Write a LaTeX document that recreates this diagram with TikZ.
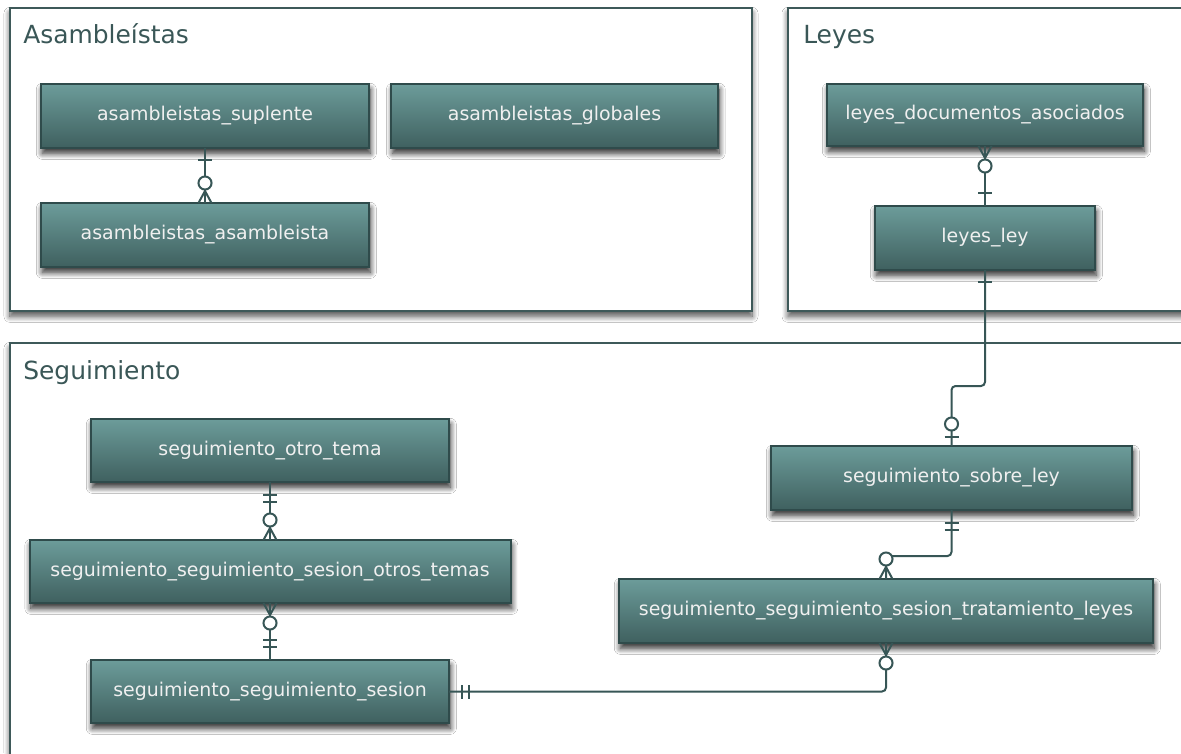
\documentclass[tikz,border=0pt]{standalone}
\usepackage{fontspec}
\setmainfont{DejaVu Sans}
\usepackage{tikz}
\usetikzlibrary{arrows.meta,positioning,fit,calc,shadows.blur,decorations.markings}
\definecolor{erTop}{HTML}{6C9C9A}
\definecolor{erBot}{HTML}{3F605F}
\definecolor{erEdge}{HTML}{2F4B4B}
\definecolor{erLine}{HTML}{375656}
\definecolor{grpEdge}{HTML}{3E5959}
\definecolor{grpText}{HTML}{3A5757}

\begin{document}
\begin{tikzpicture}[
x=0.75pt, y=-0.75pt,
every node/.style={font=\fontsize{14.2}{16}\selectfont},
ent/.style={draw=erEdge, line width=1.5pt, top color=erTop, bottom color=erBot, text=white!94!black, minimum height=48pt, inner sep=0pt, outer sep=0pt, blur shadow={shadow xshift=1pt, shadow yshift=-4pt, shadow blur radius=4.5pt, shadow blur steps=10, shadow opacity=85}},
grp/.style={draw=grpEdge, line width=2pt, fill=white, inner sep=0pt, outer sep=0pt, blur shadow={shadow xshift=0pt, shadow yshift=-4pt, shadow blur radius=4.5pt, shadow blur steps=10, shadow opacity=70}},
grptitle/.style={anchor=base west, text=grpText, inner sep=0pt, font=\fontsize{18.7}{22}\selectfont},
conn/.style={draw=erLine, line width=1.5pt, rounded corners=3pt},
ermark/.style={draw=erLine, line width=1.5pt, solid, rounded corners=0pt},
one at start/.style={postaction={decorate, decoration={markings, mark=at position 9pt with {\draw[ermark] (0,-5.25pt) -- (0,5.25pt);}}}},
one at end/.style={postaction={decorate, decoration={markings, mark=at position -9.5pt with {\draw[ermark] (0,-5.25pt) -- (0,5.25pt);}}}},
one only at start/.style={postaction={decorate, decoration={markings,
  mark=at position 9.5pt with {\draw[ermark] (0,-5.25pt) -- (0,5.25pt);},
  mark=at position 15pt with {\draw[ermark] (0,-5.25pt) -- (0,5.25pt);}}}},
one only at end/.style={postaction={decorate, decoration={markings,
  mark=at position -15pt with {\draw[ermark] (0,-5.25pt) -- (0,5.25pt);},
  mark=at position -9.5pt with {\draw[ermark] (0,-5.25pt) -- (0,5.25pt);}}}},
zero many at start/.style={postaction={decorate, decoration={markings,
  mark=at position 9pt with {\draw[ermark] (-9pt,-4.9pt) -- (0,0) -- (-9pt,4.9pt);},
  mark=at position 15pt with {\draw[ermark, fill=white] (0,0) circle[radius=4.9pt];}}}},
zero many at end/.style={postaction={decorate, decoration={markings,
  mark=at position -9pt with {\draw[ermark] (9pt,-4.9pt) -- (0,0) -- (9pt,4.9pt);},
  mark=at position -15pt with {\draw[ermark, fill=white] (0,0) circle[radius=4.9pt];}}}},
zero one at end/.style={postaction={decorate, decoration={markings,
  mark=at position -16.5pt with {\draw[ermark, fill=white] (0,0) circle[radius=4.9pt];},
  mark=at position -6.75pt with {\draw[ermark] (0,-5.25pt) -- (0,5.25pt);}}}}
]
\clip (0,0) rectangle (1181,753);
\fill[white] (0,0) rectangle (1181,753);

% groups
\node[grp, fit={(10,8) (752,311)}] (asmGrp) {};
\node[grp, fit={(788,8) (1200,311)}] (leyGrp) {};
\node[grp, fit={(10,343) (1200,800)}] (segGrp) {};
\node[grptitle] (asmTitle) at (23,43) {Asambleístas};
\node[grptitle] (leyTitle) at (803,43) {Leyes};
\node[grptitle] (segTitle) at (23,379) {Seguimiento};

% Asambleistas tables
\node[ent, minimum width=246pt] (suplente) at (205,116) {asambleistas\_suplente};
\node[ent, minimum width=245pt] (globales) at (554.5,116) {asambleistas\_globales};
\node[ent, minimum width=246pt] (asambleista) at (205,235) {asambleistas\_asambleista};

% Leyes tables
\node[ent, minimum width=237pt, minimum height=46.5pt] (docs) at (985,115) {leyes\_documentos\_asociados};
\node[ent, minimum width=165pt] (ley) at (985,238) {leyes\_ley};

% Seguimiento tables
\node[ent, minimum width=268.5pt, minimum height=47.25pt] (otroTema) at (270,450.5) {seguimiento\_otro\_tema};
\node[ent, minimum width=360.75pt, minimum height=47.25pt] (otrosTemas) at (270,571.5) {seguimiento\_seguimiento\_sesion\_otros\_temas};
\node[ent, minimum width=268.5pt, minimum height=47.25pt] (sesion) at (270,691.5) {seguimiento\_seguimiento\_sesion};
\node[ent, minimum width=270.75pt] (sobreLey) at (951.5,478) {seguimiento\_sobre\_ley};
\node[ent, minimum width=400.5pt] (tratLeyes) at (886,611) {seguimiento\_seguimiento\_sesion\_tratamiento\_leyes};

% relations
\coordinate (leyBend) at (985,386);
\coordinate (sobreBend) at (951.5,556);
\draw[conn, one at start, zero many at end] (suplente) -- (asambleista);
\draw[conn, zero many at start, one at end] (docs) -- (ley);
\draw[conn, one at start, zero one at end] (ley.south) -- (leyBend) -| (sobreLey.north);
\draw[conn, one only at start, zero many at end] (otroTema) -- (otrosTemas);
\draw[conn, zero many at start, one only at end] (otrosTemas) -- (sesion);
\draw[conn, one only at start, zero many at end] (sobreLey.south) -- (sobreBend) -| (tratLeyes.north);
\draw[conn, one only at start, zero many at end] (sesion.east) -| (tratLeyes.south);
\end{tikzpicture}
\end{document}
